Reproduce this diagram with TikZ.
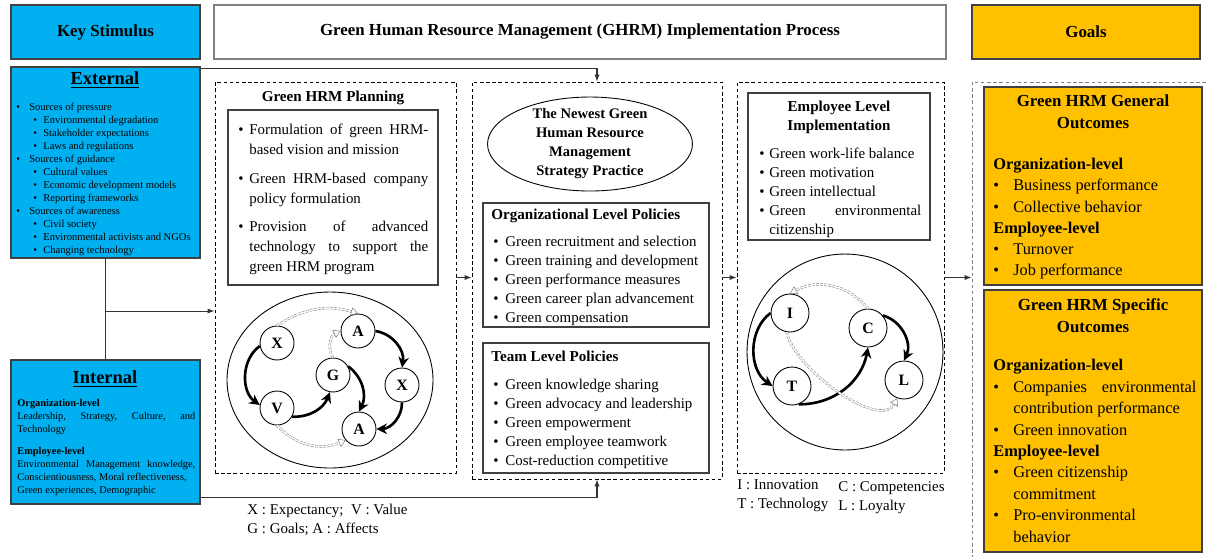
\documentclass[tikz,border=0pt]{standalone}
\usepackage{fontspec}
\setmainfont{Liberation Serif}
\usetikzlibrary{arrows.meta}
\usetikzlibrary{fit}
\usetikzlibrary{calc}
\usetikzlibrary{shapes.geometric}

\definecolor{skyblue}{RGB}{0,176,240}
\definecolor{amber}{RGB}{255,192,0}
\definecolor{edge}{RGB}{64,64,64}

\newcommand{\fsz}[2]{\fontsize{#1}{#2}\selectfont}
\newcommand{\bitem}[2][0.22cm]{\hangindent=#1\hangafter=1\noindent\makebox[#1][l]{\textbullet}#2}
\newcommand{\lone}[1]{\makebox[0.26cm][l]{\textbullet}#1}
\newcommand{\ltwo}[1]{\hspace*{0.34cm}\makebox[0.2cm][l]{\textbullet}#1}
\newcommand{\blt}{\makebox[0.24cm][l]{\textbullet}}
\newcommand{\blg}{\makebox[0.4cm][l]{\textbullet}}

\tikzset{
	every node/.style={inner sep=0pt},
	head/.style={draw=edge, line width=0.6pt},
	headtext/.style={font=\bfseries\fsz{9.6}{11}},
	stim/.style={fill=skyblue, draw=edge, line width=0.6pt},
	goal/.style={fill=amber, draw=edge, line width=0.6pt},
	panel/.style={draw, dash pattern=on 2pt off 1.5pt, line width=0.5pt},
	card/.style={draw=edge, line width=0.6pt},
	ttl/.style={font=\bfseries\fsz{8.6}{10.8}},
	bub/.style={circle, draw, line width=0.5pt, fill=white, minimum size=0.68cm, font=\bfseries\fsz{9}{10}},
	push/.style={line width=1.5pt, -{Stealth[length=6pt,width=6pt]}},
	hint/.style={draw=gray, double=white, double distance=0.8pt, line width=0.3pt, dash pattern=on 1.5pt off 0.8pt, -{Triangle[open,length=4pt,width=5pt]}},
	flow/.style={draw=black!80, line width=0.6pt, -{Latex[length=4pt,width=3pt]}},
}

\begin{document}
\begin{tikzpicture}[x=0.02cm, y=-0.02cm]
	\useasboundingbox (0,0) rectangle (1206,556);

	% headers
	\node[head, fill=skyblue, fit={(11,5) (200,59)}] (keyhead) {};
	\node[headtext] at (keyhead) {Key Stimulus};
	\node[head, draw=gray, fill=white, fit={(214,5) (946,59)}] (ghrmhead) {};
	\node[headtext] at (ghrmhead) {Green Human Resource Management (GHRM) Implementation Process};
	\node[head, fill=amber, fit={(972,5) (1200,59)}] (goalhead) {};
	\node[headtext] at (goalhead) {Goals};

	% key stimulus column
	\node[stim, fit={(11,67) (200,258)}] (ext) {};
	\node[font=\bfseries\fsz{10.5}{12}] (exttitle) at (105,80) {\underline{External}};
	\node[anchor=north west, align=left, font=\fsz{6}{7.37}] (extlist) at (16,103) {
		\lone{Sources of pressure}\\
		\ltwo{Environmental degradation}\\
		\ltwo{Stakeholder expectations}\\
		\ltwo{Laws and regulations}\\
		\lone{Sources of guidance}\\
		\ltwo{Cultural values}\\
		\ltwo{Economic development models}\\
		\ltwo{Reporting frameworks}\\
		\lone{Sources of awareness}\\
		\ltwo{Civil society}\\
		\ltwo{Environmental activists and NGOs}\\
		\ltwo{Changing technology}};

	\node[stim, fit={(11,360) (200,504)}] (int) {};
	\node[font=\bfseries\fsz{10.5}{12}] (inttitle) at (105,379) {\underline{Internal}};
	\node[anchor=north west, text width=3.56cm, align=justify, font=\fsz{5.9}{7.45}] (intbody) at (17,399) {
		\noindent\textbf{Organization-level}\\
		Leadership, Strategy, Culture, and\linebreak Technology\\[5pt]
		\textbf{Employee-level}\\
		Environmental Management knowledge,\linebreak \mbox{Conscientiousness, Moral reflectiveness,}\\
		Green experiences, Demographic};

	% green HRM planning
	\node[panel, fit={(215,82) (456,473)}] (planbox) {};
	\node[ttl] (plantitle) at (333,98) {Green HRM Planning};
	\node[card, fit={(228,110) (438,285)}] (plancard) {};
	\node[anchor=north west, text width=3.8cm, align=justify, font=\fsz{8.5}{11.3}] (planlist) at (238,124) {
		\bitem{Formulation of green HRM-\linebreak based vision and mission}\par\vspace{5pt}
		\bitem{Green HRM-based company\linebreak policy formulation}\par\vspace{5pt}
		\bitem{Provision of advanced\linebreak technology to support the\linebreak green HRM program}\par};

	\draw[line width=0.5pt] (330,380) ellipse [x radius=103, y radius=88];
	\node[bub] (x1) at (277,343) {X};
	\node[bub] (a1) at (358,331) {A};
	\node[bub] (g) at (333,375) {G};
	\node[bub] (x2) at (402,385) {X};
	\node[bub] (v) at (277,408) {V};
	\node[bub] (a2) at (359,429) {A};
	\draw[push] (x1.190) to[bend right=55] (v.170);
	\draw[push] (a1.east) to[bend left=45] (x2.north);
	\draw[push] (x2.south) to[bend left=45] (a2.east);
	\draw[push] (v.-30) to[bend right=35] (g.-100);
	\draw[push] (g.30) to[bend left=40] (a2.north);
	\draw[hint] (x1.north) to[bend left=25] (a1.north);
	\draw[hint] (g.north) to[bend left=50] (a1.west);
	\draw[hint] (v.south) to[bend right=35] (a2.220);

	\node[anchor=north west, align=left, font=\fsz{8.5}{10.8}] (planlegend) at (247,504) {X : Expectancy;\ \ V : Value\\G : Goals; A : Affects};

	% strategy practice
	\node[panel, fit={(472,82) (722,479)}] (midbox) {};
	\node[ellipse, draw, line width=0.5pt, minimum width=4.1cm, minimum height=1.88cm] (strat) at (590,144) {};
	\node[font=\bfseries\fsz{8.3}{10.8}, align=center] (strattext) at (strat) {The Newest Green\\Human Resource\\Management\\Strategy Practice};

	\node[card, fit={(483,203) (709,327)}] (orgcard) {};
	\node[ttl, anchor=base west] (orgtitle) at (491,219) {Organizational Level Policies};
	\node[anchor=north west, align=left, font=\fsz{8.5}{10.8}] (orglist) at (493,236) {
		\blt Green recruitment and selection\\
		\blt Green training and development\\
		\blt Green performance measures\\
		\blt Green career plan advancement\\
		\blt Green compensation};

	\node[card, fit={(483,343) (709,473)}] (teamcard) {};
	\node[ttl, anchor=base west] (teamtitle) at (491,361) {Team Level Policies};
	\node[anchor=north west, align=left, font=\fsz{8.5}{10.8}] (teamlist) at (493,379) {
		\blt Green knowledge sharing\\
		\blt Green advocacy and leadership\\
		\blt Green empowerment\\
		\blt Green employee teamwork\\
		\blt Cost-reduction competitive};

	% employee level
	\node[panel, fit={(737,82) (944,473)}] (empbox) {};
	\node[card, fit={(748,93) (930,240)}] (empcard) {};
	\node[ttl, align=center] (emptitle) at (839,117) {Employee Level\\Implementation};
	\node[anchor=north west, text width=3.24cm, align=justify, font=\fsz{8.5}{10.8}] (emplist) at (759,148) {
		\bitem[0.2cm]{Green work-life balance}\par
		\bitem[0.2cm]{Green motivation}\par
		\bitem[0.2cm]{Green intellectual}\par
		\bitem[0.2cm]{Green environmental\linebreak citizenship}\par};

	\node[circle, draw, line width=0.5pt, minimum size=3.92cm] (empring) at (845,352) {};
	\node[bub, minimum size=0.76cm] (i) at (790,313) {I};
	\node[bub, minimum size=0.76cm] (c) at (868,328) {C};
	\node[bub, minimum size=0.76cm] (t) at (792,386) {T};
	\node[bub, minimum size=0.76cm] (l) at (904,380) {L};
	\draw[push] (i.west) to[bend right=55] (t.west);
	\draw[push] (c.40) to[bend left=50] (l.north);
	\draw[push] (t.-70) to[bend right=40] (c.south);
	\draw[hint] (c.north) to[bend right=40] (i.north);
	\draw[hint] (i.-100) .. controls (795,370) and (880,430) .. (l.-110);

	\node[anchor=north west, align=left, font=\fsz{8.5}{10.8}] (emplegendA) at (737,479) {I : Innovation\\T : Technology};
	\node[anchor=north west, align=left, font=\fsz{8.5}{10.8}] (emplegendB) at (838,481) {C : Competencies\\L : Loyalty};

	% goals
	\node[panel, draw=gray, fit={(972,82) (1220,570)}] (goalbox) {};
	\node[goal, fit={(984,87) (1202,285)}] (gencard) {};
	\node[font=\bfseries\fsz{9.6}{12.5}, align=center] (gentitle) at (1093,112) {Green HRM General\\Outcomes};
	\node[anchor=north west, align=left, font=\fsz{9.3}{12.05}] (genlist) at (993,158) {
		\textbf{Organization-level}\\
		\blg Business performance\\
		\blg Collective behavior\\
		\textbf{Employee-level}\\
		\blg Turnover\\
		\blg Job performance};

	\node[goal, fit={(984,290) (1202,552)}] (speccard) {};
	\node[font=\bfseries\fsz{9.6}{12.5}, align=center] (spectitle) at (1093,316) {Green HRM Specific\\Outcomes};
	\node[anchor=north west, align=left, font=\fsz{9.3}{12.2}] (speclist) at (993,359) {
		\textbf{Organization-level}\\
		\blg\makebox[3.66cm][s]{Companies environmental}\\
		\hspace*{0.4cm}contribution performance\\
		\blg Green innovation\\
		\textbf{Employee-level}\\
		\blg Green citizenship\\
		\hspace*{0.4cm}commitment\\
		\blg Pro-environmental\\
		\hspace*{0.4cm}behavior};

	% connectors
	\coordinate (fork) at ($(ext.south)!0.52!(int.north)$);
	\draw[draw=black!80, line width=0.6pt] (ext.south) -- (int.north);
	\draw[flow] (fork) -- (fork -| planbox.west);
	\draw[flow] ([yshift=-0.04cm]ext.north east) -| (midbox.north);
	\draw[flow] ([yshift=0.14cm]int.south east) -| (midbox.south);
	\draw[flow] (planbox.east) -- (planbox.east -| midbox.west);
	\draw[flow] (midbox.east |- empbox.west) -- (empbox.west);
	\draw[flow] (empbox.east) -- (empbox.east -| goalbox.west);
\end{tikzpicture}
\end{document}
